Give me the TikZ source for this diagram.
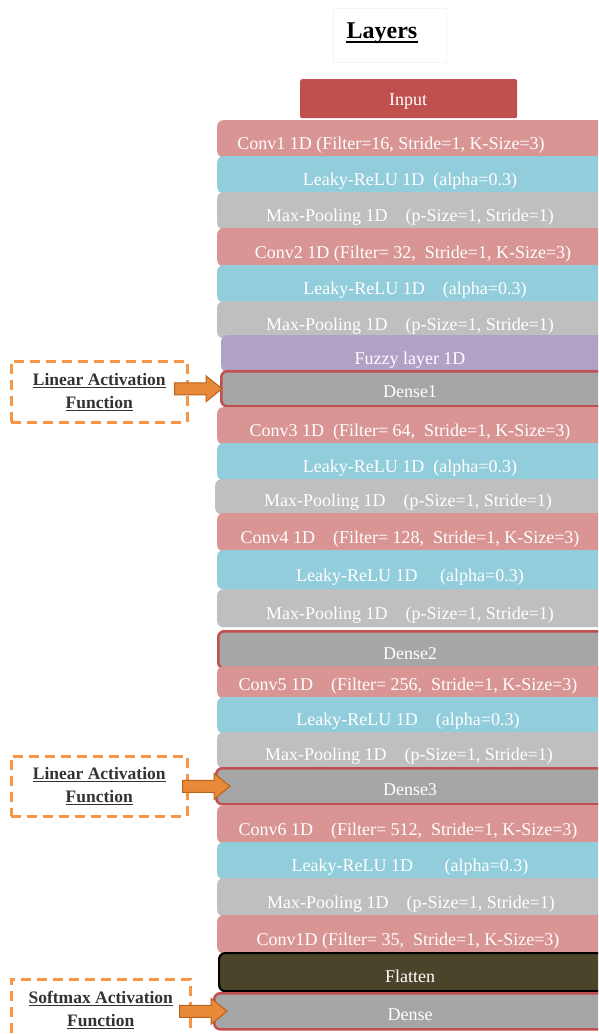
\documentclass[tikz,border=0pt]{standalone}
\usepackage{fontspec}
\setmainfont{Liberation Serif}
\usetikzlibrary{calc}
\definecolor{convc}{HTML}{D99594}
\definecolor{leakc}{HTML}{92CDDC}
\definecolor{poolc}{HTML}{BFBFBF}
\definecolor{fuzzc}{HTML}{B2A1C7}
\definecolor{densec}{HTML}{A6A6A6}
\definecolor{redc}{HTML}{C0504D}
\definecolor{flatc}{HTML}{4A452A}
\definecolor{orgc}{HTML}{F79646}
\definecolor{orgd}{HTML}{B8621C}
\definecolor{arrc}{HTML}{E8893A}
\newcommand\layerfont{\fontsize{18}{21}\selectfont}
\tikzset{
  box/.style={inner sep=0pt, rounded corners=6pt, anchor=north west},
  conv/.style={box, fill=convc},
  leak/.style={box, fill=leakc},
  pool/.style={box, fill=poolc},
  fuzz/.style={box, fill=fuzzc},
  dense/.style={box, fill=densec, draw=redc, line width=2.5pt},
  flat/.style={box, fill=flatc, draw=black, line width=2.2pt},
  ltext/.style={text=white, font=\layerfont, anchor=base, inner sep=0pt},
  actbox/.style={draw=orgc, line width=2.5pt, dash pattern=on 10pt off 6pt,
    minimum width=176pt, align=center, anchor=north west,
    font=\fontsize{17.5}{23}\selectfont\bfseries, text=black!80, inner sep=0pt},
  blockarrow/.style={fill=arrc, draw=orgd, line width=1pt, line join=miter},
}
\newcommand\lyr[7]{%
  \node[#2, minimum width={620-#3}, minimum height={#5-#4}] (#1) at (#3,#4) {};
  \node[ltext] (#1t) at (#6,{#5-8}) {#7};
}
\newcommand\barrow[4]{%
  \draw[blockarrow] let \p1=($(#1.east)+(-#3,0)$), \p2=($(#2.west)+(#4,0)$) in
    (\x1,\y2+6pt) -- (\x2-16pt,\y2+6pt) -- (\x2-16pt,\y2+13pt) -- (\x2,\y2)
    -- (\x2-16pt,\y2-13pt) -- (\x2-16pt,\y2-6pt) -- (\x1,\y2-6pt) -- cycle;
}
\begin{document}
\begin{tikzpicture}[x=1pt,y=-1pt]
\useasboundingbox (0,0) rectangle (598,1034);
\clip (0,0) rectangle (598,1034);
\fill[white] (0,0) rectangle (598,1034);

% title
\node[draw=black!4, line width=0.8pt, minimum width=113pt, minimum height=54pt,
      anchor=north west, inner sep=0pt] (tbox) at (333,8) {};
\node[font=\fontsize{24}{26}\selectfont\bfseries, anchor=base, inner sep=0pt]
      (title) at (382,38) {Layers};
\draw[line width=1.6pt] ([yshift=-4pt]title.base west) -- ([yshift=-4pt]title.base east);

% input
\node[box, fill=redc, rounded corners=2pt, minimum width=217pt, minimum height=39pt] (inp) at (300,79) {};
\node[ltext] (inpt) at (408,105) {Input};

% layers
\lyr{c1}{conv}{217}{120}{157}{391}{Conv1 1D (Filter=16, Stride=1, K-Size=3)}
\lyr{l1}{leak}{217}{156}{193}{410}{Leaky-ReLU 1D\ \ (alpha=0.3)}
\lyr{m1}{pool}{217}{192}{229}{410}{Max-Pooling 1D\ \ \ \ (p-Size=1, Stride=1)}
\lyr{c2}{conv}{217}{228}{266}{413}{Conv2 1D (Filter= 32,\ \ Stride=1, K-Size=3)}
\lyr{l2}{leak}{217}{265}{302}{415}{Leaky-ReLU 1D\ \ \ \ (alpha=0.3)}
\lyr{m2}{pool}{217}{301}{338}{410}{Max-Pooling 1D\ \ \ \ (p-Size=1, Stride=1)}
\lyr{fz}{fuzz}{221}{335}{372}{410}{Fuzzy layer 1D}
\lyr{d1}{dense}{220}{370}{405}{410}{Dense1}
\lyr{c3}{conv}{217}{407}{444}{410}{Conv3 1D\ \ (Filter= 64,\ \ Stride=1, K-Size=3)}
\lyr{l3}{leak}{217}{443}{480}{410}{Leaky-ReLU 1D\ \ (alpha=0.3)}
\lyr{m3}{pool}{215}{479}{514}{408}{Max-Pooling 1D\ \ \ \ (p-Size=1, Stride=1)}
\lyr{c4}{conv}{217}{513}{551}{410}{Conv4 1D\ \ \ \ (Filter= 128,\ \ Stride=1, K-Size=3)}
\lyr{l4}{leak}{217}{550}{589}{410}{Leaky-ReLU 1D\ \ \ \ \ (alpha=0.3)}
\lyr{m4}{pool}{217}{589}{627}{410}{Max-Pooling 1D\ \ \ \ (p-Size=1, Stride=1)}
\lyr{d2}{dense}{217}{630}{667}{410}{Dense2}
\lyr{c5}{conv}{217}{666}{698}{408}{Conv5 1D\ \ \ \ (Filter= 256,\ \ Stride=1, K-Size=3)}
\lyr{l5}{leak}{217}{697}{733}{408}{Leaky-ReLU 1D\ \ \ \ (alpha=0.3)}
\lyr{m5}{pool}{217}{732}{768}{409}{Max-Pooling 1D\ \ \ \ (p-Size=1, Stride=1)}
\lyr{d3}{dense}{215}{767}{803}{410}{Dense3}
\lyr{c6}{conv}{217}{805}{843}{408}{Conv6 1D\ \ \ \ (Filter= 512,\ \ Stride=1, K-Size=3)}
\lyr{l6}{leak}{217}{842}{879}{410}{Leaky-ReLU 1D\ \ \ \ \ \ \ (alpha=0.3)}
\lyr{m6}{pool}{217}{878}{916}{411}{Max-Pooling 1D\ \ \ \ (p-Size=1, Stride=1)}
\lyr{c7}{conv}{217}{915}{953}{408}{Conv1D (Filter= 35,\ \ Stride=1, K-Size=3)}
\lyr{fl}{flat}{218}{952}{990}{410}{Flatten}
\lyr{dd}{dense}{213}{992}{1028}{410}{Dense}

% activation boxes
\node[actbox, minimum height=61pt] (act1) at (10,360) {\underline{Linear Activation}\\\underline{Function}};
\node[actbox, minimum height=60pt] (act2) at (10,755) {\underline{Linear Activation}\\\underline{Function}};
\node[actbox, minimum width=179pt, minimum height=62pt] (act3) at (10,978) {\underline{Softmax Activation}\\\underline{Function}};

% arrows
\barrow{act1}{d1}{14}{2}
\barrow{act2}{d3}{6}{15}
\barrow{act3}{dd}{12}{14}
\end{tikzpicture}
\end{document}
